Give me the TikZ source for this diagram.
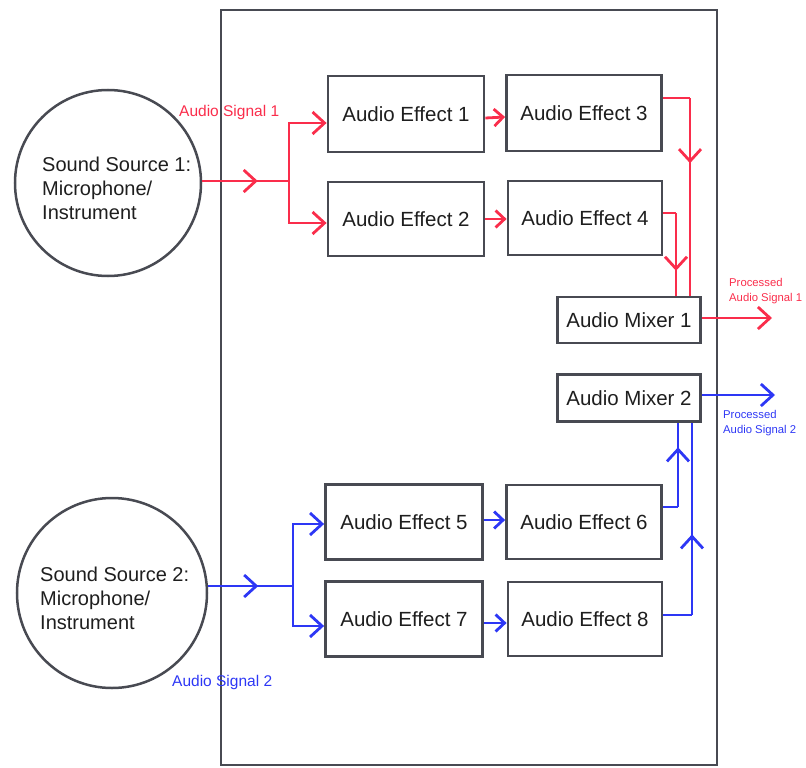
\documentclass[tikz,border=0pt]{standalone}
\usepackage{fontspec}
\setmainfont{Liberation Sans}
\usetikzlibrary{arrows.meta,decorations.markings,calc}
\definecolor{sigred}{RGB}{250,45,75}
\definecolor{sigblue}{RGB}{45,55,245}
\definecolor{edge}{RGB}{72,74,82}
\definecolor{txt}{RGB}{30,30,30}
\tikzset{
  box/.style={draw=edge,line width=2.8pt,fill=white,inner sep=0pt,text=txt,font=\fontsize{20.5}{22}\selectfont},
  src/.style={draw=edge,line width=2.5pt,circle,inner sep=0pt},
  srctxt/.style={text=txt,align=left,inner sep=0pt,font=\fontsize{20}{24}\selectfont},
  chev/.tip={Straight Barb[length=12pt,width=22pt,line width=2.8pt]},
  smallchev/.tip={Straight Barb[length=9pt,width=17pt,line width=2.8pt]},
  sig/.style={line width=2.8pt},
  redsig/.style={sig,draw=sigred},
  bluesig/.style={sig,draw=sigblue},
  midarrow/.style={postaction={decorate},decoration={markings,mark=at position #1 with {\arrow{chev}}}},
  lbl/.style={inner sep=0pt,font=\fontsize{15.5}{18}\selectfont},
  outlbl/.style={inner sep=0pt,align=left,font=\fontsize{11.3}{15}\selectfont},
}
\begin{document}
\begin{tikzpicture}[x=1pt,y=-1pt]
\useasboundingbox (0,0) rectangle (806,768);
% frame
\draw[edge,line width=2.5pt] (221,10) rectangle (717,765);
% sources
\node[src,minimum size=186pt] (s1) at (108,183) {};
\node[srctxt,anchor=west] (s1t) at (42,188) {Sound Source 1:\\Microphone/\\Instrument};
\node[src,minimum size=190pt] (s2) at (112,593) {};
\node[srctxt,anchor=west] (s2t) at (40,598) {Sound Source 2:\\Microphone/\\Instrument};
% effect boxes
\node[box,minimum width=156pt,minimum height=76pt] (ae1) at (406,114) {Audio Effect 1};
\node[box,minimum width=155pt,minimum height=76pt] (ae3) at (584,113) {Audio Effect 3};
\node[box,minimum width=156pt,minimum height=74pt] (ae2) at (406,219) {Audio Effect 2};
\node[box,minimum width=154pt,minimum height=74pt] (ae4) at (585,218) {Audio Effect 4};
\node[box,minimum width=143pt,minimum height=46pt] (m1) at (629,320) {Audio Mixer 1};
\node[box,minimum width=143pt,minimum height=47pt] (m2) at (629,398) {Audio Mixer 2};
\node[box,minimum width=157pt,minimum height=75pt] (ae5) at (404,522) {Audio Effect 5};
\node[box,minimum width=155pt,minimum height=74pt] (ae6) at (584,522) {Audio Effect 6};
\node[box,minimum width=157pt,minimum height=75pt] (ae7) at (404,619) {Audio Effect 7};
\node[box,minimum width=154pt,minimum height=74pt] (ae8) at (585,619) {Audio Effect 8};
% coordinates
\coordinate (b1) at (289,181);
\coordinate (c3) at (690,98);
\coordinate (c4) at (676,213);
\coordinate (o1) at (772,318);
\coordinate (b2) at (293,586);
\coordinate (c6) at (678,507);
\coordinate (c8) at (692,615);
\coordinate (o2) at (775,395);
% red signal
\draw[redsig,midarrow=0.64] (s1.east |- b1) -- (b1);
\draw[redsig,-chev] (b1) |- ([yshift=-9pt]ae1.west);
\draw[redsig,-chev] (b1) |- ([yshift=-4pt]ae2.west);
\draw[redsig,-smallchev] ([yshift=-4pt]ae1.east) -- ([yshift=-4pt]ae3.west);
\draw[redsig,-smallchev] (ae2.east) -- (ae2.east -| ae4.west);
\draw[redsig] ([yshift=15pt]ae3.east) -- (c3);
\draw[redsig,midarrow=0.33] (c3) -- (c3 |- m1.north);
\draw[redsig] (ae4.east |- c4) -- (c4);
\draw[redsig,midarrow=0.70] (c4) -- (c4 |- m1.north);
\draw[redsig,-chev] (m1.east |- o1) -- (o1);
% blue signal
\draw[bluesig,midarrow=0.59] (s2.east |- b2) -- (b2);
\draw[bluesig,-chev] (b2) |- ([yshift=-2pt]ae5.west);
\draw[bluesig,-chev] (b2) |- ([yshift=-7pt]ae7.west);
\draw[bluesig,-smallchev] ([yshift=2pt]ae5.east) -- ([yshift=2pt]ae6.west);
\draw[bluesig,-smallchev] ([yshift=-4pt]ae7.east) -- ([yshift=-4pt]ae7.east -| ae8.west);
\draw[bluesig] (ae6.east |- c6) -- (c6);
\draw[bluesig,midarrow=0.71] (c6) -- (c6 |- m2.south);
\draw[bluesig] (ae8.east |- c8) -- (c8);
\draw[bluesig,midarrow=0.42] (c8) -- (c8 |- m2.south);
\draw[bluesig,-chev] (m2.east |- o2) -- (o2);
% labels
\node[lbl,text=sigred,anchor=west] (l1) at (179,112) {Audio Signal 1};
\node[lbl,text=sigblue,anchor=west] (l2) at (172,682) {Audio Signal 2};
\node[outlbl,text=sigred,anchor=north west] (l3) at (729,278) {Processed\\Audio Signal 1};
\node[outlbl,text=sigblue,anchor=north west] (l4) at (723,410) {Processed\\Audio Signal 2};
\end{tikzpicture}
\end{document}
